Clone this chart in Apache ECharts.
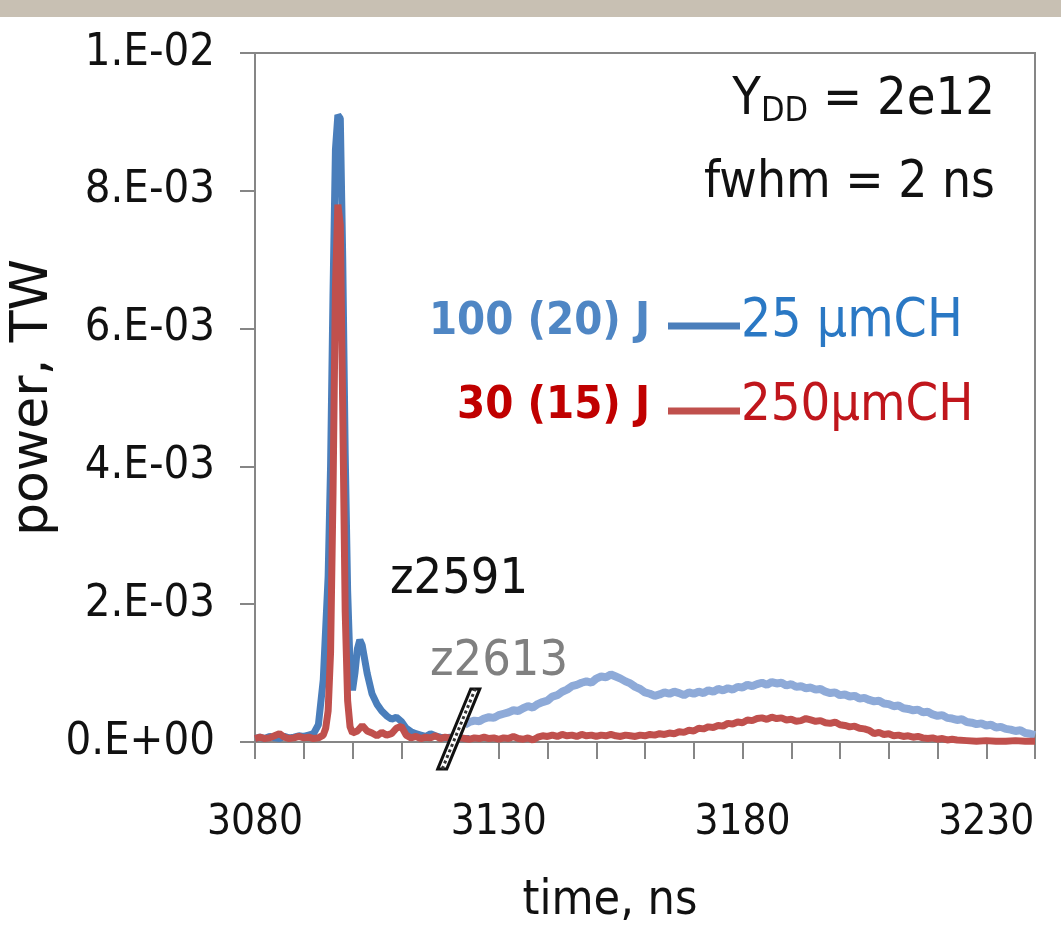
<!DOCTYPE html>
<html><head><meta charset="utf-8">
<script src="https://cdn.jsdelivr.net/npm/echarts@6/dist/echarts.min.js"></script>
<style>html,body{margin:0;padding:0;background:#fff}#c{width:1061px;height:951px}</style>
</head><body><div id="c"></div><script>
// ---- data (power in units of 1e-3 TW) ----
const blueTime = [3080,3081,3082,3083,3084,3085,3086,3087,3088,3089,3090,3091,3092,3093,3094,3095,3095.5,3096,3096.5,3097,3097.5,3098,3098.5,3099,3099.5,3100,3100.5,3101,3101.5,3102,3102.5,3103,3103.5,3104,3105,3106,3107,3108,3109,3110,3111,3112,3113,3114,3115,3116,3117,3118,3119,3120,3121,3122,3123,3124];
const blueVal  = [0.05,0.07,0.05,0.08,0.06,0.05,0.08,0.06,0.07,0.09,0.08,0.10,0.12,0.25,0.9,2.4,4.0,6.5,8.6,9.1,9.05,7.0,4.2,2.2,1.1,0.75,1.0,1.35,1.48,1.4,1.2,1.0,0.85,0.7,0.55,0.45,0.38,0.33,0.36,0.30,0.20,0.15,0.12,0.10,0.08,0.12,0.09,0.07,0.06,0.07,0.05,0.06,0.05,0.05];

const redTime = [3080,3081,3082,3083,3084,3085,3086,3087,3088,3089,3090,3091,3092,3093,3094,3094.5,3095,3095.5,3096,3096.5,3097,3097.5,3098,3098.5,3099,3099.5,3100,3101,3102,3103,3104,3105,3106,3107,3108,3109,3110,3111,
 3112,3113,3114,3115,3116,3117,3118,3119,3120,3121,3122,3123,3124,3125,3126,3127,3128,3129,3130,3131,3132,3133,3134,3135,3136,3137,3138,3139,3140,3141,3142,3143,3144,3145,3146,3147,3148,3149,3150,3151,3152,3153,3154,3155,3156,3157,3158,3159,3160,3161,3162,3163,3164,3165,3166,3167,3168,3169,3170,3171,3172,3173,3174,3175,3176,3177,3178,3179,3180,3181,3182,3183,3184,3185,3186,3187,3188,3189,3190,3191,3192,3193,3194,3195,3196,3197,3198,3199,3200,3201,3202,3203,3204,3205,3206,3207,3208,3209,3210,3211,3212,3213,3214,3215,3216,3217,3218,3219,3220,3221,3222,3223,3224,3226,3228,3230,3232,3234,3236,3238,3240];
const redVal = [0.05,0.07,0.05,0.06,0.09,0.12,0.07,0.05,0.06,0.08,0.06,0.07,0.05,0.06,0.10,0.20,0.45,1.3,3.6,6.6,7.8,7.5,4.8,1.9,0.6,0.22,0.13,0.16,0.24,0.16,0.13,0.09,0.14,0.10,0.12,0.20,0.23,0.10,
 0.06,0.08,0.05,0.07,0.06,0.09,0.05,0.07,0.06,0.04,0.06,0.05,0.04,0.06,0.05,0.07,0.05,0.06,0.04,0.06,0.05,0.08,0.05,0.04,0.06,0.03,0.07,0.09,0.08,0.10,0.08,0.11,0.09,0.10,0.08,0.11,0.09,0.10,0.08,0.10,0.09,0.11,0.09,0.08,0.10,0.09,0.08,0.10,0.09,0.11,0.10,0.12,0.11,0.13,0.12,0.15,0.14,0.17,0.16,0.20,0.19,0.22,0.21,0.24,0.23,0.27,0.26,0.29,0.28,0.32,0.31,0.34,0.35,0.33,0.36,0.34,0.35,0.32,0.33,0.30,0.31,0.34,0.32,0.30,0.31,0.28,0.27,0.29,0.25,0.24,0.22,0.23,0.20,0.19,0.17,0.12,0.14,0.11,0.12,0.09,0.10,0.08,0.09,0.07,0.08,0.06,0.05,0.06,0.04,0.05,0.03,0.04,0.03,0.02,0.01,0.02,0.01,0.01,0.02,0.01,0.01];

const lightTime = [3123,3124,3125,3126,3127,3128,3129,3130,3131,3132,3133,3134,3135,3136,3137,3138,3139,3140,3141,3142,3143,3144,3145,3146,3147,3148,3149,3150,3151,3152,3153,3154,3155,3156,3157,3158,3159,3160,3161,3162,3163,3164,3165,3166,3167,3168,3169,3170,3171,3172,3173,3174,3175,3176,3177,3178,3179,3180,3181,3182,3183,3184,3185,3186,3187,3188,3189,3190,3191,3192,3193,3194,3195,3196,3197,3198,3199,3200,3201,3202,3203,3204,3205,3206,3207,3208,3209,3210,3211,3212,3213,3214,3215,3216,3217,3218,3219,3220,3221,3222,3223,3224,3225,3226,3227,3228,3229,3230,3231,3232,3233,3234,3235,3236,3237,3238,3239,3240];
const lightVal = [0.25,0.29,0.31,0.30,0.34,0.36,0.35,0.39,0.41,0.43,0.46,0.45,0.49,0.52,0.50,0.55,0.58,0.60,0.66,0.68,0.73,0.76,0.81,0.83,0.86,0.88,0.86,0.92,0.95,0.94,0.98,0.95,0.92,0.88,0.85,0.80,0.77,0.72,0.70,0.67,0.69,0.72,0.70,0.73,0.71,0.68,0.72,0.70,0.73,0.71,0.75,0.73,0.77,0.75,0.78,0.76,0.80,0.79,0.83,0.81,0.84,0.86,0.83,0.87,0.85,0.86,0.82,0.84,0.80,0.81,0.78,0.79,0.76,0.77,0.73,0.71,0.72,0.68,0.69,0.66,0.67,0.63,0.64,0.61,0.59,0.60,0.56,0.55,0.52,0.53,0.49,0.48,0.46,0.47,0.43,0.44,0.40,0.38,0.39,0.35,0.34,0.32,0.33,0.29,0.28,0.26,0.27,0.24,0.25,0.21,0.22,0.19,0.18,0.16,0.17,0.13,0.12,0.10];

const yTickLabels = ['0.E+00','2.E-03','4.E-03','6.E-03','8.E-03','1.E-02'];
const xLabelValues = [3080,3130,3180,3230];
const breakPoint = [3121.8, 0.19];   // position of the axis-break mark (time, 1e-3 TW)
const MILLI = 1e-3;

// ---- build ----
const pairs = (t, v) => t.map((x, i) => [x, v[i] * MILLI]);
const NARROW = "'Liberation Sans Narrow','Arial Narrow','DejaVu Sans Condensed','Open Sans',sans-serif";
const axisGray = '#868686';

const chart = echarts.init(document.getElementById('c'), null, {renderer: 'canvas'});
chart.setOption({
  backgroundColor: '#ffffff',
  animation: false,
  grid: {left: 255, right: 26, top: 53, bottom: 209, show: true, borderColor: axisGray, borderWidth: 2,
    containLabel: false, outerBoundsMode: 'none'},
  xAxis: {
    type: 'value', min: 3080, max: 3240, interval: 10,
    name: 'time, ns', nameLocation: 'middle', nameGap: 136, nameMoveOverlap: false,
    nameTextStyle: {fontFamily: NARROW, fontSize: 48, color: '#111', padding: [0, 70, 0, 0]},
    axisLine: {show: true, lineStyle: {color: axisGray, width: 2}},
    axisTick: {show: true, length: 17, lineStyle: {color: axisGray, width: 2}},
    splitLine: {show: false},
    axisLabel: {margin: 60, fontFamily: NARROW, fontSize: 42, color: '#111',
      formatter: v => xLabelValues.indexOf(Math.round(v)) >= 0 ? String(Math.round(v)) : ''}
  },
  yAxis: {
    type: 'value', min: 0, max: 0.01, interval: 0.002,
    name: 'power, TW', nameLocation: 'middle', nameGap: 196, nameRotate: 90, nameMoveOverlap: false,
    nameTextStyle: {fontFamily: "'DejaVu Sans',sans-serif", fontSize: 52, color: '#111'},
    axisLine: {show: true, lineStyle: {color: axisGray, width: 2}},
    axisTick: {show: true, length: 15, lineStyle: {color: axisGray, width: 2}},
    splitLine: {show: false},
    axisLabel: {margin: 40, fontFamily: NARROW, fontSize: 45, color: '#111',
      formatter: v => yTickLabels[Math.round(v / 0.002)]}
  },
  series: [
    {name: 'z2613 100 J', type: 'line', data: pairs(lightTime, lightVal), showSymbol: false,
      lineStyle: {color: '#8eaad8', width: 8}, z: 2},
    {name: '100 (20) J', type: 'line', data: pairs(blueTime, blueVal), showSymbol: false,
      lineStyle: {color: '#4a7ebb', width: 7}, z: 3},
    {name: '30 (15) J', type: 'line', data: pairs(redTime, redVal), showSymbol: false,
      lineStyle: {color: '#c0504d', width: 7}, z: 4},
    {name: 'break', type: 'custom', clip: false, z: 10, silent: true,
      data: [[breakPoint[0], breakPoint[1] * MILLI]],
      renderItem: (p, api) => {
        const c = api.coord([api.value(0), api.value(1)]);
        const x = c[0], y = c[1];
        return {type: 'group', children: [
          {type: 'polygon', shape: {points: [[x-21, y+40], [x+12, y-40], [x+21, y-40], [x-12, y+40]]},
            style: {fill: '#ffffff', stroke: '#111', lineWidth: 3}},
          {type: 'line', shape: {x1: x-16.5, y1: y+40, x2: x+16.5, y2: y-40},
            style: {stroke: '#333', lineWidth: 3, lineDash: [3, 3]}}
        ]};
      }}
  ],
  graphic: [
    {type: 'rect', left: 0, top: 0, shape: {width: 1061, height: 17}, style: {fill: '#c8c0b3'}, z: 100},
    {type: 'text', right: 66, top: 74, style: {
      rich: {
        a: {fontFamily: NARROW, fontSize: 52, fill: '#111'},
        s: {fontFamily: NARROW, fontSize: 34, fill: '#111', padding: [24, 0, 0, 0]}
      },
      text: '{a|Y}{s|DD}{a| = 2e12}'}},
    {type: 'text', right: 66, top: 158, style: {text: 'fwhm = 2 ns', fontFamily: NARROW, fontSize: 51, fill: '#111'}},
    {type: 'text', right: 411, top: 300, style: {text: '100 (20) J', fontFamily: NARROW, fontSize: 45, fontWeight: 'bold', fill: '#4f86c4'}},
    {type: 'line', shape: {x1: 668, y1: 326, x2: 740, y2: 326}, style: {stroke: '#4a7ebb', lineWidth: 7}},
    {type: 'text', left: 741, top: 296, style: {text: '25 µmCH', fontFamily: NARROW, fontSize: 53, fill: '#2a78c4'}},
    {type: 'text', right: 411, top: 384, style: {text: '30 (15) J', fontFamily: NARROW, fontSize: 45, fontWeight: 'bold', fill: '#c00000'}},
    {type: 'line', shape: {x1: 668, y1: 411, x2: 740, y2: 411}, style: {stroke: '#c0504d', lineWidth: 7}},
    {type: 'text', left: 741, top: 380, style: {text: '250µmCH', fontFamily: NARROW, fontSize: 52, fill: '#c0161c'}},
    {type: 'text', left: 390, top: 555, style: {text: 'z2591', fontFamily: NARROW, fontSize: 50, fill: '#111'}},
    {type: 'text', left: 430, top: 637, style: {text: 'z2613', fontFamily: NARROW, fontSize: 50, fill: '#808080'}}
  ]
});
</script></body></html>
